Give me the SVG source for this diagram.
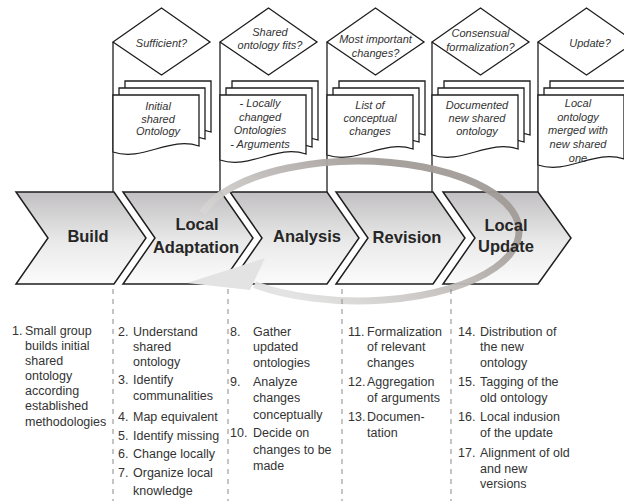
<svg xmlns="http://www.w3.org/2000/svg" width="624" height="501" viewBox="0 0 624 501">
<defs>
<linearGradient id="chevFill" x1="0" y1="0" x2="0" y2="1">
<stop offset="0" stop-color="#c2c0c2"/>
<stop offset="0.55" stop-color="#eaeaea"/>
<stop offset="1" stop-color="#fbfbfb"/>
</linearGradient>
<linearGradient id="ringGrad" gradientUnits="userSpaceOnUse" x1="380" y1="160" x2="300" y2="300">
<stop offset="0" stop-color="#a29c98"/>
<stop offset="0.5" stop-color="#c4c0bd"/>
<stop offset="1" stop-color="#e2e2e2"/>
</linearGradient>
</defs>
<style>
.chev{fill:url(#chevFill);stroke:#1e1e1e;stroke-width:1.5;stroke-linejoin:miter}
.dia{fill:#fff;stroke:#1e1e1e;stroke-width:1.3}
.doc{fill:#fff;stroke:#1e1e1e;stroke-width:1.3}
.vline{stroke:#1e1e1e;stroke-width:1.3;fill:none}
.dash{stroke:#8a8a8a;stroke-width:1;stroke-dasharray:5 5;fill:none}
.it{font-family:"Liberation Sans",Arial,sans-serif;font-style:italic;font-size:11px;fill:#333;text-anchor:middle}
.lbl{font-family:"Liberation Sans",Arial,sans-serif;font-weight:bold;font-size:16.5px;fill:#262626;text-anchor:middle}
.lst{font-family:"Liberation Sans",Arial,sans-serif;font-size:12.5px;fill:#333}
</style>

<!-- question boxes with document stacks -->
<g id="box1">
<path class="vline" d="M113,42 V192"/>
<polygon class="dia" points="113,42 161.5,8 210,42 161.5,75"/>
<path class="doc" d="M125,81 H211 V132 C181,122 155,148 125,138 Z"/>
<path class="doc" d="M119,88 H205 V139 C175,129 149,155 119,145 Z"/>
<path class="doc" d="M113,95 H199 V146 C169,136 143,162 113,152 Z"/>
<text class="it" x="161.5" y="47">Sufficient?</text>
<text class="it" x="158" y="110">Initial</text>
<text class="it" x="158" y="122.5">shared</text>
<text class="it" x="158" y="135">Ontology</text>
</g>
<g id="box2">
<path class="vline" d="M220,42 V192"/>
<polygon class="dia" points="220,42 268.5,8 317,42 268.5,75"/>
<path class="doc" d="M232,81 H318 V140 C288,130 262,156 232,146 Z"/>
<path class="doc" d="M226,88 H312 V147 C282,137 256,163 226,153 Z"/>
<path class="doc" d="M220,95 H306 V154 C276,144 250,170 220,160 Z"/>
<text class="it" x="270" y="36">Shared</text>
<text class="it" x="270" y="49">ontology fits?</text>
<text class="it" x="260" y="107">- Locally</text>
<text class="it" x="260" y="120.5">changed</text>
<text class="it" x="260" y="134">Ontologies</text>
<text class="it" x="260" y="147.5">- Arguments</text>
</g>
<g id="box3">
<path class="vline" d="M327,42 V192"/>
<polygon class="dia" points="327,42 375.5,8 424,42 375.5,75"/>
<path class="doc" d="M339,81 H425 V135 C395,125 369,151 339,141 Z"/>
<path class="doc" d="M333,88 H419 V142 C389,132 363,158 333,148 Z"/>
<path class="doc" d="M327,95 H413 V149 C383,139 357,165 327,155 Z"/>
<text class="it" x="375.5" y="43">Most important</text>
<text class="it" x="375.5" y="57">changes?</text>
<text class="it" x="370" y="109">List of</text>
<text class="it" x="370" y="122">conceptual</text>
<text class="it" x="370" y="135">changes</text>
</g>
<g id="box4">
<path class="vline" d="M432,42 V192"/>
<polygon class="dia" points="432,42 480.5,8 529,42 480.5,75"/>
<path class="doc" d="M444,81 H530 V135 C500,125 474,151 444,141 Z"/>
<path class="doc" d="M438,88 H524 V142 C494,132 468,158 438,148 Z"/>
<path class="doc" d="M432,95 H518 V149 C488,139 462,165 432,155 Z"/>
<text class="it" x="480.5" y="37">Consensual</text>
<text class="it" x="480.5" y="51">formalization?</text>
<text class="it" x="477" y="109">Documented</text>
<text class="it" x="477" y="122">new shared</text>
<text class="it" x="477" y="135">ontology</text>
</g>
<g id="box5">
<path class="vline" d="M538,42 V192"/>
<polygon class="dia" points="538,42 586.5,8 635,42 586.5,75"/>
<path class="doc" d="M550,81 H636 V145 C606,135 580,161 550,151 Z"/>
<path class="doc" d="M544,88 H630 V152 C600,142 574,168 544,158 Z"/>
<path class="doc" d="M538,95 H624 V159 C594,149 568,175 538,165 Z"/>
<text class="it" x="590" y="47">Update?</text>
<text class="it" x="578" y="107">Local</text>
<text class="it" x="578" y="120.5">ontology</text>
<text class="it" x="578" y="134">merged with</text>
<text class="it" x="578" y="148">new shared</text>
<text class="it" x="578" y="162">one</text>
</g>

<!-- process chevrons -->
<g id="build"><polygon class="chev" points="16,192 114,192 146,238 114,284 16,284 48,238"/></g>
<g id="local-adaptation"><polygon class="chev" points="123,192 221,192 253,238 221,284 123,284 155,238"/></g>
<g id="analysis"><polygon class="chev" points="230,192 327,192 359,238 327,284 230,284 262,238"/></g>
<g id="revision"><polygon class="chev" points="336,192 433,192 465,238 433,284 336,284 368,238"/></g>
<g id="local-update"><polygon class="chev" points="443,192 538,192 571,238 538,284 443,284 475,238"/></g>

<!-- connectors: cycle arrow and phase separators -->
<g id="connectors">
<path d="M202.5,212.9 A161 70 0 1 1 254.5,284.6" fill="none" stroke="url(#ringGrad)" stroke-width="7" opacity="0.95"/>
<polygon points="187,283 265,258 250,290" fill="#e3e3e3"/>
<path class="dash" d="M113,289 V501"/>
<path class="dash" d="M228,289 V501"/>
<path class="dash" d="M342,289 V501"/>
<path class="dash" d="M451,289 V501"/>
</g>

<!-- chevron labels -->
<g id="chevron-labels">
<text class="lbl" x="88" y="242">Build</text>
<text class="lbl" x="197" y="230">Local</text>
<text class="lbl" x="196" y="253">Adaptation</text>
<text class="lbl" x="307" y="242">Analysis</text>
<text class="lbl" x="407" y="243">Revision</text>
<text class="lbl" x="506" y="231">Local</text>
<text class="lbl" x="506" y="252">Update</text>
</g>

<!-- activity lists -->
<g id="list-build" class="lst">
<text x="12" y="335">1.</text><text x="25" y="335">Small group</text>
<text x="25" y="350">builds initial</text>
<text x="25" y="365">shared</text>
<text x="25" y="380">ontology</text>
<text x="25" y="395">according</text>
<text x="25" y="410">established</text>
<text x="25" y="426">methodologies</text>
</g>
<g id="list-local-adaptation" class="lst">
<text x="118" y="336">2.</text><text x="133" y="336">Understand</text>
<text x="133" y="351">shared</text>
<text x="133" y="366">ontology</text>
<text x="118" y="384">3.</text><text x="133" y="384">Identify</text>
<text x="133" y="400">communalities</text>
<text x="118" y="421">4.</text><text x="133" y="421">Map equivalent</text>
<text x="118" y="440">5.</text><text x="133" y="440">Identify missing</text>
<text x="118" y="458">6.</text><text x="133" y="458">Change locally</text>
<text x="118" y="477">7.</text><text x="133" y="477">Organize local</text>
<text x="133" y="495">knowledge</text>
</g>
<g id="list-analysis" class="lst">
<text x="230" y="336">8.</text><text x="253" y="336">Gather</text>
<text x="253" y="351">updated</text>
<text x="253" y="367">ontologies</text>
<text x="230" y="386">9.</text><text x="253" y="386">Analyze</text>
<text x="253" y="402">changes</text>
<text x="253" y="419">conceptually</text>
<text x="230" y="437">10.</text><text x="253" y="437">Decide on</text>
<text x="253" y="454">changes to be</text>
<text x="253" y="470">made</text>
</g>
<g id="list-revision" class="lst">
<text x="348" y="336">11.</text><text x="367" y="336">Formalization</text>
<text x="367" y="351">of relevant</text>
<text x="367" y="367">changes</text>
<text x="348" y="386">12.</text><text x="367" y="386">Aggregation</text>
<text x="367" y="402">of arguments</text>
<text x="348" y="421">13.</text><text x="367" y="421">Documen-</text>
<text x="367" y="437">tation</text>
</g>
<g id="list-local-update" class="lst">
<text x="458" y="336">14.</text><text x="480" y="336">Distribution of</text>
<text x="480" y="351">the new</text>
<text x="480" y="367">ontology</text>
<text x="458" y="386">15.</text><text x="480" y="386">Tagging of the</text>
<text x="480" y="402">old ontology</text>
<text x="458" y="421">16.</text><text x="480" y="421">Local indusion</text>
<text x="480" y="437">of the update</text>
<text x="458" y="457">17.</text><text x="480" y="457">Alignment of old</text>
<text x="480" y="473">and new</text>
<text x="480" y="488">versions</text>
</g>
</svg>
